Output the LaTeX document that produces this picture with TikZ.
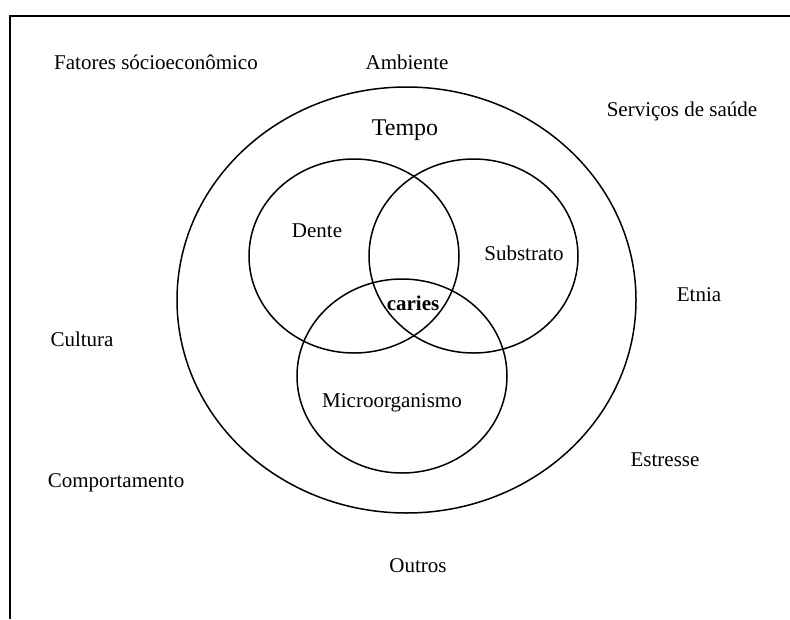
\documentclass[tikz,border=0pt]{standalone}
\usepackage{fontspec}
\setmainfont{Liberation Serif}
\usetikzlibrary{shapes.geometric}
\begin{document}
\begin{tikzpicture}[x=1pt,y=-1pt,
  ring/.style={draw, ellipse, line width=1.5pt, inner sep=0pt},
  lbl/.style={inner sep=0pt, font=\fontsize{21}{25}\selectfont},
  border/.style={line width=2.5pt}]
\useasboundingbox (0,0) rectangle (790,619);
% frame
\coordinate (tl) at (10,16);
\coordinate (tr) at (790,16);
\coordinate (bl) at (10,619);
\draw[border] (tr) -- (tl) -- (bl);
% circles
\node[ring, minimum width=459pt, minimum height=426pt] (outer) at (406.5,300) {};
\node[ring, minimum width=210pt, minimum height=194pt] (dente) at (354,256) {};
\node[ring, minimum width=209pt, minimum height=194pt] (subs) at (473.5,256) {};
\node[ring, minimum width=210pt, minimum height=194pt] (micro) at (402,376) {};
% labels
\node[lbl] (fat) at (156,62) {Fatores sócioeconômico};
\node[lbl] (amb) at (407,62) {Ambiente};
\node[lbl] (serv) at (682,111) {Serviços de saúde};
\node[lbl, font=\fontsize{24}{28}\selectfont] (tempo) at (405,130) {Tempo};
\node[lbl] (dtxt) at (317,231) {Dente};
\node[lbl] (stxt) at (524,253) {Substrato};
\node[lbl] (etn) at (699,295) {Etnia};
\node[lbl] (cul) at (82,339) {Cultura};
\node[lbl, font=\fontsize{21}{25}\selectfont\bfseries] (car) at (413,303) {caries};
\node[lbl] (mtxt) at (392,403) {Microorganismo};
\node[lbl] (est) at (665,460) {Estresse};
\node[lbl] (comp) at (116,483) {Comportamento};
\node[lbl] (out) at (418,566) {Outros};
\end{tikzpicture}
\end{document}
